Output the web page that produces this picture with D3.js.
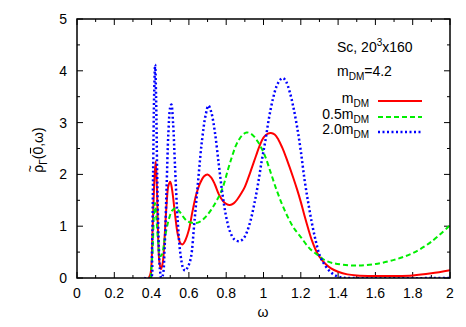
<!DOCTYPE html>
<html><head><meta charset="utf-8">
<script src="https://cdn.jsdelivr.net/npm/d3@7"></script>
<style>body{margin:0;background:#fff}text{font-family:"Liberation Sans",Arial,sans-serif}</style>
</head><body><svg id="c" width="466" height="327"></svg>
<script>
const xTicks=[0,0.2,0.4,0.6,0.8,1,1.2,1.4,1.6,1.8,2];
const yTicks=[0,1,2,3,4,5];
const redX=[0.385,0.395,0.405,0.415,0.422,0.428,0.435,0.442,0.45,0.46,0.47,0.48,0.49,0.50,0.51,0.525,0.54,0.555,0.567,0.58,0.60,0.62,0.64,0.66,0.68,0.70,0.72,0.74,0.76,0.78,0.80,0.82,0.84,0.86,0.88,0.90,0.93,0.96,0.98,1.00,1.02,1.04,1.06,1.08,1.10,1.12,1.14,1.16,1.18,1.20,1.22,1.24,1.26,1.28,1.30,1.33,1.36,1.40,1.45,1.50,1.60,1.70,1.80,1.90,2.00];
const redY=[0,0.1,0.9,1.9,2.25,1.8,0.8,0.3,0.17,0.3,0.8,1.4,1.78,1.86,1.7,1.25,0.85,0.67,0.65,0.72,0.93,1.3,1.62,1.83,1.96,2.0,1.94,1.8,1.62,1.5,1.43,1.41,1.44,1.52,1.63,1.76,2.05,2.36,2.56,2.71,2.78,2.80,2.77,2.67,2.52,2.34,2.14,1.93,1.71,1.47,1.2,0.95,0.72,0.54,0.41,0.28,0.19,0.12,0.07,0.05,0.04,0.04,0.05,0.09,0.15];
const greenX=[0.395,0.405,0.412,0.418,0.425,0.435,0.445,0.455,0.47,0.49,0.51,0.53,0.55,0.57,0.59,0.61,0.635,0.66,0.69,0.72,0.75,0.78,0.81,0.83,0.85,0.87,0.89,0.91,0.93,0.95,0.97,0.99,1.01,1.04,1.07,1.10,1.13,1.16,1.20,1.25,1.30,1.33,1.37,1.42,1.50,1.60,1.70,1.80,1.90,2.00];
const greenY=[0,0.5,1.2,1.45,1.2,0.7,0.42,0.45,0.75,1.1,1.3,1.35,1.28,1.18,1.1,1.07,1.06,1.09,1.18,1.32,1.5,1.73,2.1,2.33,2.54,2.68,2.77,2.81,2.79,2.73,2.63,2.5,2.34,2.02,1.7,1.42,1.18,0.98,0.79,0.56,0.42,0.34,0.29,0.26,0.24,0.27,0.35,0.48,0.70,1.02];
const blueX=[0.36,0.395,0.402,0.408,0.414,0.419,0.424,0.43,0.437,0.445,0.452,0.46,0.47,0.48,0.49,0.50,0.506,0.515,0.525,0.54,0.555,0.57,0.58,0.595,0.61,0.63,0.65,0.67,0.69,0.705,0.72,0.74,0.76,0.78,0.80,0.82,0.845,0.87,0.89,0.91,0.93,0.95,0.97,0.99,1.01,1.03,1.05,1.07,1.09,1.105,1.12,1.14,1.16,1.18,1.20,1.22,1.24,1.26,1.28,1.30,1.32,1.35,1.38,1.42,1.46,2.0];
const blueY=[0,0,0.5,2.0,3.6,4.12,3.5,2.0,0.8,0.15,0,0.05,0.6,1.7,2.8,3.3,3.35,3.0,2.2,1.1,0.45,0.18,0.14,0.22,0.38,1.1,1.9,2.65,3.15,3.33,3.2,2.8,2.2,1.62,1.18,0.9,0.74,0.71,0.75,0.88,1.1,1.42,1.8,2.25,2.65,3.1,3.45,3.7,3.83,3.86,3.8,3.6,3.3,2.92,2.45,1.9,1.45,1.05,0.72,0.45,0.3,0.15,0.06,0.01,0,0];

const svg=d3.select("#c");
const L=77,R=450,T=19,B=278;
const x=d3.scaleLinear().domain([0,2]).range([L,R]);
const y=d3.scaleLinear().domain([0,5]).range([B,T]);
const g=svg.append("g");
svg.append("clipPath").attr("id","cp").append("rect").attr("x",L).attr("y",T).attr("width",R-L).attr("height",B-T);

const minorX=d3.range(0,2.0001,0.1), minorY=d3.range(0,5.0001,0.5);
function isMajor(v,step){return Math.abs(v/step-Math.round(v/step))<1e-6;}
minorX.forEach(v=>{const len=isMajor(v,0.2)?6:3;
  g.append("line").attr("x1",x(v)).attr("x2",x(v)).attr("y1",B).attr("y2",B-len).attr("stroke","#000");
  g.append("line").attr("x1",x(v)).attr("x2",x(v)).attr("y1",T).attr("y2",T+len).attr("stroke","#000");});
minorY.forEach(v=>{const len=isMajor(v,1)?6:3;
  g.append("line").attr("y1",y(v)).attr("y2",y(v)).attr("x1",L).attr("x2",L+len).attr("stroke","#000");
  g.append("line").attr("y1",y(v)).attr("y2",y(v)).attr("x1",R).attr("x2",R-len).attr("stroke","#000");});

xTicks.forEach(v=>g.append("text").attr("x",x(v)).attr("y",298).attr("text-anchor","middle").attr("font-size",14).text(d3.format("")(v)));
yTicks.forEach(v=>g.append("text").attr("x",67).attr("y",y(v)+5).attr("text-anchor","end").attr("font-size",14).text(v));

const line=d3.line().x(d=>x(d[0])).y(d=>y(d[1])).curve(d3.curveCatmullRom.alpha(0.5));
const series=[
 {xs:redX,ys:redY,color:"#ff0000",dash:null,w:2},
 {xs:greenX,ys:greenY,color:"#00ee00",dash:"5,3",w:2},
 {xs:blueX,ys:blueY,color:"#0000ff",dash:"2,2.5",w:2.5}];
const pg=svg.append("g").attr("clip-path","url(#cp)");
series.forEach(s=>{
  pg.append("path").attr("d",line(s.xs.map((v,i)=>[v,s.ys[i]]))).attr("fill","none")
   .attr("stroke",s.color).attr("stroke-width",s.w).attr("stroke-dasharray",s.dash);
});

svg.append("rect").attr("x",L).attr("y",T).attr("width",R-L).attr("height",B-T).attr("fill","none").attr("stroke","#000").attr("stroke-width",1.5);

const t1=svg.append("text").attr("x",337).attr("y",52).attr("font-size",14);
t1.append("tspan").text("Sc, 20");
t1.append("tspan").attr("dy",-6).attr("font-size",10).text("3");
t1.append("tspan").attr("dy",6).text("x160");
const t2=svg.append("text").attr("x",337).attr("y",76).attr("font-size",14);
t2.append("tspan").text("m");
t2.append("tspan").attr("dy",4).attr("font-size",10).text("DM");
t2.append("tspan").attr("dy",-4).text("=4.2");

const labels=["m","0.5m","2.0m"];
const ly=[103,119,134];
series.forEach((s,i)=>{
  const t=svg.append("text").attr("x",369).attr("y",ly[i]).attr("text-anchor","end").attr("font-size",14);
  t.append("tspan").text(labels[i]);
  t.append("tspan").attr("dy",4).attr("font-size",10).text("DM");
  svg.append("line").attr("x1",378).attr("x2",422).attr("y1",ly[i]-2).attr("y2",ly[i]-2)
    .attr("stroke",s.color).attr("stroke-width",s.w).attr("stroke-dasharray",s.dash);
});

svg.append("text").attr("x",263).attr("y",317).attr("text-anchor","middle").attr("font-size",14).text("ω");

const yg=svg.append("g").attr("transform","translate(43,150) rotate(-90)");
const inner=yg.append("g");
let cx=0;
function piece(txt,size,dy){const t=inner.append("text").attr("x",cx).attr("y",dy).attr("font-size",size).text(txt);const w=t.node().getComputedTextLength();const x0=cx;cx+=w;return {x0,w};}
const rho=piece("ρ",14,0);
inner.append("text").attr("x",rho.x0+rho.w/2).attr("y",-9).attr("text-anchor","middle").attr("font-size",12).text("~");
piece("Γ",10,4);
piece("(",14,0);
const zero=piece("0",14,0);
inner.append("line").attr("x1",zero.x0+1).attr("x2",zero.x0+zero.w-1).attr("y1",-12.5).attr("y2",-12.5).attr("stroke","#000").attr("stroke-width",1.1);
piece(",ω)",14,0);
inner.attr("transform",`translate(${-cx/2},0)`);
</script></body></html>
